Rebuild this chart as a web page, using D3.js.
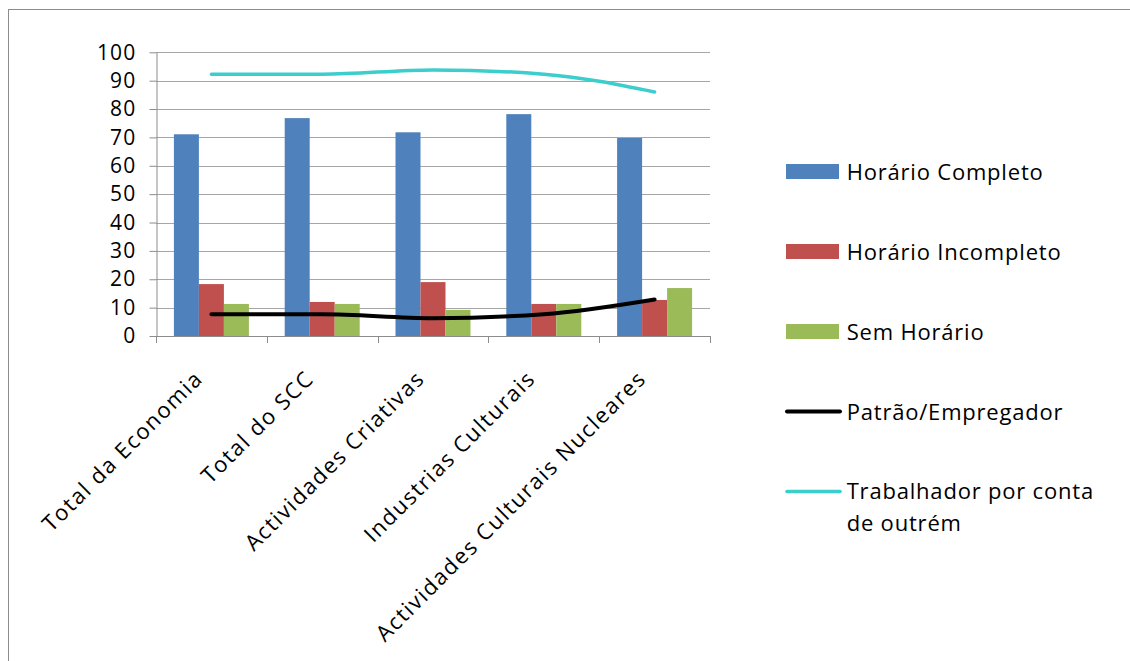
<!DOCTYPE html>
<html>
<head>
<meta charset="utf-8">
<script src="https://cdn.jsdelivr.net/npm/d3@7"></script>
<style>
  html, body { margin: 0; padding: 0; background: #fff; }
  svg { display: block; }
  text { font-family: "Open Sans", "DejaVu Sans", sans-serif; fill: #000; }
</style>
</head>
<body>
<svg id="chart" width="1130" height="661"></svg>
<script>
// Categories and series
const categories = [
  "Total da Economia",
  "Total do SCC",
  "Actividades Criativas",
  "Industrias Culturais",
  "Actividades Culturais Nucleares"
];
const barSeries = ["Horário Completo", "Horário Incompleto", "Sem Horário"];
const horarioCompleto   = [71.1, 76.8, 71.8, 78.2, 69.8];
const horarioIncompleto = [18.3, 12.0, 19.0, 11.3, 12.7];
const semHorario        = [11.3, 11.3,  9.2, 11.3, 16.9];
const lineSeries = ["Patrão/Empregador", "Trabalhador por conta de outrém"];
const patraoEmpregador  = [7.7, 7.7, 6.3, 7.7, 12.9];
const trabalhadorOutrem = [92.3, 92.3, 93.8, 92.3, 86.0];
const yTicks = [0, 10, 20, 30, 40, 50, 60, 70, 80, 90, 100];

const barColors = ["#4F81BD", "#C0504D", "#9BBB59"];
const lineColors = ["#000000", "#3CCDCD"];
const lineWidths = [4, 3.5];

const svg = d3.select("#chart");

// Outer chart frame
svg.append("rect")
  .attr("x", 8.5).attr("y", 9.5)
  .attr("width", 1200).attr("height", 800)
  .attr("fill", "none").attr("stroke", "#8c8c8c").attr("stroke-width", 1);

const plot = { left: 156, right: 710, top: 52.3, bottom: 336 };

const x0 = d3.scaleBand().domain(categories).range([plot.left, plot.right]);
const x1 = d3.scaleBand().domain(barSeries).range([0, x0.bandwidth()]).paddingOuter(0.716);
const y = d3.scaleLinear().domain([0, 100]).range([plot.bottom, plot.top]);

// Gridlines
svg.append("g")
  .selectAll("line")
  .data(yTicks.filter(d => d > 0))
  .join("line")
  .attr("x1", plot.left).attr("x2", plot.right)
  .attr("y1", d => Math.round(y(d)) + 0.5).attr("y2", d => Math.round(y(d)) + 0.5)
  .attr("stroke", "#a6a6a6").attr("stroke-width", 1);

// Bars
const barData = [horarioCompleto, horarioIncompleto, semHorario];
const groups = svg.append("g")
  .selectAll("g")
  .data(categories)
  .join("g")
  .attr("transform", d => `translate(${x0(d)},0)`);

groups.selectAll("rect")
  .data((c, i) => barSeries.map((s, k) => ({ s, v: barData[k][i], k })))
  .join("rect")
  .attr("x", d => x1(d.s))
  .attr("width", x1.bandwidth())
  .attr("y", d => y(d.v))
  .attr("height", d => y(0) - y(d.v))
  .attr("fill", d => barColors[d.k]);

// Y axis
const yAxis = svg.append("g")
  .attr("transform", `translate(${plot.left + 0.5},0)`)
  .call(d3.axisLeft(y).tickValues(yTicks).tickSize(7).tickPadding(13).tickSizeOuter(0));
yAxis.select(".domain").attr("stroke", "#8c8c8c");
yAxis.selectAll(".tick line").attr("stroke", "#8c8c8c");
yAxis.selectAll(".tick text")
  .attr("font-size", 21)
  .attr("letter-spacing", 1.2)
  .attr("font-family", "'Open Sans', 'DejaVu Sans', sans-serif")
  .attr("fill", "#000");

// X axis line and category boundary ticks
const boundaries = d3.range(categories.length + 1)
  .map(i => i < categories.length ? x0(categories[i]) : plot.right);
svg.append("line")
  .attr("x1", plot.left).attr("x2", plot.right + 1)
  .attr("y1", plot.bottom + 0.5).attr("y2", plot.bottom + 0.5)
  .attr("stroke", "#8c8c8c");
svg.append("g")
  .selectAll("line")
  .data(boundaries)
  .join("line")
  .attr("x1", d => Math.round(d) + 0.5).attr("x2", d => Math.round(d) + 0.5)
  .attr("y1", plot.bottom).attr("y2", plot.bottom + 7)
  .attr("stroke", "#8c8c8c");

// Category labels, rotated
svg.append("g")
  .selectAll("text")
  .data(categories)
  .join("text")
  .attr("transform", d => `translate(${x0(d) + x0.bandwidth() / 2 - 7},380) rotate(-45)`)
  .attr("text-anchor", "end")
  .attr("font-size", 22)
  .attr("letter-spacing", 1.6)
  .text(d => d);

// Lines
const lineData = [patraoEmpregador, trabalhadorOutrem];
const lineGen = d3.line()
  .x((d, i) => x0(categories[i]) + x0.bandwidth() / 2)
  .y(d => y(d))
  .curve(d3.curveMonotoneX);
svg.append("g")
  .selectAll("path")
  .data(lineData)
  .join("path")
  .attr("d", d => lineGen(d))
  .attr("fill", "none")
  .attr("stroke", (d, i) => lineColors[i])
  .attr("stroke-width", (d, i) => lineWidths[i])
  .attr("stroke-linecap", "round")
  .attr("stroke-linejoin", "round");

// Legend
const legendItems = [
  { label: ["Horário Completo"], type: "bar", color: barColors[0] },
  { label: ["Horário Incompleto"], type: "bar", color: barColors[1] },
  { label: ["Sem Horário"], type: "bar", color: barColors[2] },
  { label: ["Patrão/Empregador"], type: "line", color: lineColors[0], w: lineWidths[0] },
  { label: ["Trabalhador por conta", "de outrém"], type: "line", color: lineColors[1], w: lineWidths[1] }
];
const legend = svg.append("g");
legendItems.forEach((it, i) => {
  const cy = 171.5 + i * 80;
  const g = legend.append("g");
  if (it.type === "bar") {
    g.append("rect").attr("x", 786).attr("y", cy - 7.5).attr("width", 53).attr("height", 15).attr("fill", it.color);
  } else {
    g.append("line").attr("x1", 787).attr("x2", 840).attr("y1", cy).attr("y2", cy)
      .attr("stroke", it.color).attr("stroke-width", it.w).attr("stroke-linecap", "round");
  }
  const t = g.append("text")
    .attr("x", 846.7)
    .attr("y", it.label.length > 1 ? cy + 7 : cy + 8)
    .attr("font-size", 22)
    .attr("letter-spacing", 0.8);
  it.label.forEach((l, j) => {
    t.append("tspan").attr("x", 846.7).attr("dy", j === 0 ? 0 : 32).text(l);
  });
});
</script>
</body>
</html>
